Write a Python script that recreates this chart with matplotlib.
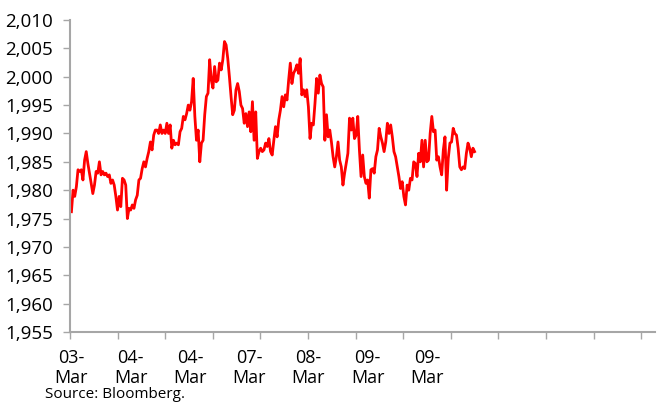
import numpy as np
import matplotlib
matplotlib.use("Agg")
import matplotlib.pyplot as plt
from matplotlib.ticker import FuncFormatter

values = [
    1976.2, 1980.0, 1978.9, 1980.6, 1983.6, 1983.3, 1983.6, 1981.8, 1985.3, 1986.8,
    1984.7, 1983.0, 1981.2, 1979.4, 1980.9, 1983.3, 1983.0, 1985.0, 1982.7, 1983.3,
    1982.7, 1983.0, 1982.4, 1982.7, 1981.2, 1981.8, 1980.9, 1978.9, 1976.5, 1978.9,
    1977.1, 1982.1, 1981.8, 1980.9, 1975.0, 1976.8, 1976.5, 1977.4, 1976.8, 1978.3,
    1979.1, 1981.8, 1982.1, 1983.8, 1985.0, 1984.1, 1985.6, 1986.8, 1988.5, 1987.1,
    1989.7, 1990.6,
    1990.6, 1990.0, 1991.5, 1990.0, 1990.6, 1990.0, 1991.8, 1990.0, 1991.5, 1987.4,
    1988.8, 1988.0, 1988.3, 1988.0, 1990.3, 1990.9, 1993.0, 1992.4, 1993.5, 1995.0,
    1994.1, 1995.6, 1999.7, 1993.0, 1988.8, 1990.6, 1985.0, 1988.3, 1988.8, 1993.3,
    1996.5, 1997.1, 2003.0, 1999.4, 1998.0, 2001.8, 1999.1, 1999.4, 2002.4, 2001.2,
    2003.0, 2006.2, 2005.6, 2003.2, 2000.0, 1996.5, 1993.3, 1994.1, 1997.7,
    1998.8, 1997.4, 1995.0, 1994.4, 1991.8, 1993.5, 1991.2, 1993.8, 1990.3, 1995.6,
    1988.8, 1993.8, 1985.6, 1986.8, 1987.4, 1986.8, 1987.1, 1988.3, 1987.7, 1989.1,
    1986.8, 1986.2, 1988.8, 1991.2, 1989.4, 1992.4, 1994.1, 1996.5, 1994.7, 1996.8,
    1995.9, 1999.4, 2002.4, 1998.8, 2000.6, 2001.2, 2002.1, 2000.6, 2003.2, 1996.8,
    1997.7, 1996.5, 1997.7, 1994.7,
    1989.1, 1991.8, 1991.5, 1995.3, 1999.7, 1997.1, 2000.3, 1998.8, 1998.2, 1988.8,
    1993.3, 1989.4, 1990.6, 1988.5, 1985.9, 1984.1, 1985.9, 1988.5, 1985.3, 1984.1,
    1980.9, 1983.0, 1984.7, 1986.5, 1992.7, 1990.6, 1992.7, 1989.1, 1989.7, 1993.0,
    1987.1, 1982.4, 1986.2, 1982.4, 1981.2, 1981.8, 1978.6, 1983.6, 1983.8, 1983.0,
    1985.9, 1987.1, 1990.9, 1989.4, 1988.3, 1986.8, 1988.5, 1991.8, 1990.0, 1991.5,
    1989.4, 1986.8, 1985.9, 1984.1,
    1982.4, 1980.3, 1981.5, 1978.9, 1977.4, 1980.9, 1980.0, 1982.1, 1981.8, 1985.0,
    1984.7, 1982.4, 1986.5, 1985.0, 1988.8, 1984.1, 1988.8, 1985.0, 1985.3, 1990.0,
    1993.0, 1990.3, 1990.6, 1985.3, 1985.9, 1984.1, 1982.7, 1987.1, 1989.4, 1980.0,
    1985.6, 1988.3, 1988.5, 1990.9, 1990.0, 1989.7, 1987.4, 1984.1, 1983.6, 1984.1,
    1983.8, 1986.5, 1988.3, 1987.4, 1985.9, 1987.4, 1986.8,
]

date_labels = ["03-\nMar", "04-\nMar", "04-\nMar", "07-\nMar", "08-\nMar",
               "09-\nMar", "09-\nMar"]

y_ticks = list(range(1955, 2011, 5))

plt.rcParams["font.family"] = ["Open Sans", "DejaVu Sans"]

fig = plt.figure(figsize=(6.59, 4.03), dpi=100)
ax = fig.add_axes([70 / 659, 1 - 332 / 403, 585 / 659, 312 / 403])

n = len(values)
x = np.arange(n)
# the data covers about 8.47 tick intervals of the axis
per_tick = (n - 1) / 8.47
ax.plot(x, values, color="#ff0000", lw=2.0, solid_joinstyle="round")

x0 = -0.03 * per_tick
# tick marks every interval, no text on them
ax.set_xticks([x0 + i * per_tick for i in range(13)])
ax.set_xticklabels([])
# date labels sit on their own spacing (about 1.245 tick intervals apart)
ax.set_xticks([x0 + (0.03 + 1.245 * i) * per_tick for i in range(len(date_labels))],
              minor=True)
ax.set_xticklabels(date_labels, minor=True, fontsize=13, linespacing=1.2)
ax.tick_params(axis="x", which="minor", length=0, pad=12)
ax.set_xlim(x0, x0 + 12.29 * per_tick)

ax.set_yticks(y_ticks)
ax.yaxis.set_major_formatter(FuncFormatter(lambda v, p: f"{int(v):,}"))
ax.set_ylim(1955, 2010)
ax.tick_params(axis="y", labelsize=13.5, length=5, width=1, color="#a6a6a6", pad=7)
ax.tick_params(axis="x", which="major", length=5, width=1, color="#a6a6a6")

for side in ["top", "right"]:
    ax.spines[side].set_visible(False)
for side in ["left", "bottom"]:
    ax.spines[side].set_color("#a6a6a6")
    ax.spines[side].set_linewidth(1.5)

fig.text(45 / 659, 1 - 387 / 403, "Source: Bloomberg.", fontsize=11, va="top")

fig.savefig("out.png", dpi=100)
